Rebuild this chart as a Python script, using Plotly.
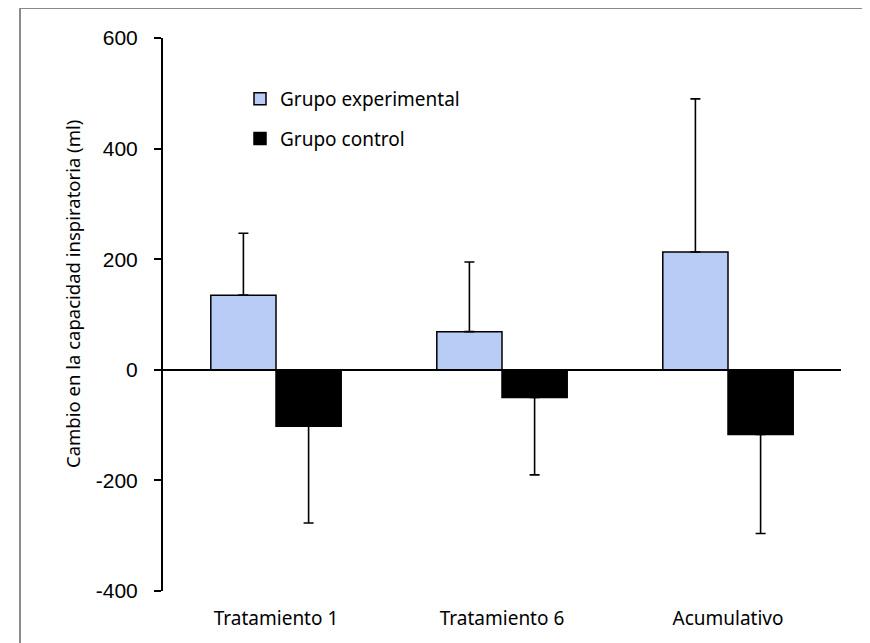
import plotly.graph_objects as go

# Datos
categorias = ["Tratamiento 1", "Tratamiento 6", "Acumulativo"]
experimental = [135, 69, 213]
experimental_err = [112, 126, 277]
control = [-102, -50, -117]
control_err = [175, 140, 179]
y_ticks = [-400, -200, 0, 200, 400, 600]
y_ticktext = ["-400", "-200", "0", "200", "400", "600"]

# La página tiene un margen de 8 px: el gráfico empieza en (8, 8)
OFF = 8
W, H = 870 - OFF, 643 - OFF
M_L, M_R, M_T, M_B = 163 - OFF, 29, 38 - OFF, 52
PW = W - M_L - M_R
PH = H - M_T - M_B


def px_x(x):
    # x en píxeles de la ventana -> coordenada "paper"
    return (x - OFF - M_L) / PW


def px_y(y):
    return (H - M_B - (y - OFF)) / PH


fig = go.Figure()

fig.add_trace(go.Bar(
    x=categorias,
    y=experimental,
    name="Grupo experimental",
    legendgroup="exp",
    marker=dict(color="#B9CCF6", line=dict(color="black", width=1.5)),
    error_y=dict(type="data", symmetric=False, array=experimental_err,
                 arrayminus=[0] * len(experimental_err),
                 color="black", thickness=1.6, width=5),
))
fig.add_trace(go.Bar(
    x=categorias,
    y=control,
    name="Grupo control",
    legendgroup="ctl",
    marker=dict(color="black", line=dict(color="black", width=1.5)),
    error_y=dict(type="data", symmetric=False, array=[0] * len(control_err),
                 arrayminus=control_err,
                 color="black", thickness=1.6, width=5),
))

# ── Marco gris (arriba e izquierda) ──
borde = dict(type="line", xref="paper", yref="paper",
             line=dict(color="#8a8a8a", width=2), layer="above")
fig.add_shape(**borde, x0=px_x(20), x1=px_x(875), y0=px_y(8), y1=px_y(8))
fig.add_shape(**borde, x0=px_x(20), x1=px_x(20), y0=px_y(8), y1=px_y(650))

# ── Título del eje Y ──
fig.add_annotation(
    text="Cambio en la capacidad inspiratoria (ml)",
    xref="paper", yref="paper", x=px_x(72), y=px_y(294),
    xanchor="center", yanchor="middle",
    textangle=-90, showarrow=False,
    font=dict(family="Noto Sans", size=18.5, color="black"),
)

fig.update_layout(
    width=W,
    height=H,
    margin=dict(l=M_L, r=M_R, t=M_T, b=M_B, autoexpand=False),
    paper_bgcolor="white",
    plot_bgcolor="white",
    barmode="group",
    bargap=0.423,
    bargroupgap=0,
    showlegend=True,
    legend=dict(
        x=px_x(240), y=px_y(80), xanchor="left", yanchor="top",
        font=dict(family="Noto Sans", size=19, color="black"),
        bgcolor="rgba(0,0,0,0)",
        traceorder="grouped",
        tracegroupgap=12,
    ),
    xaxis=dict(
        range=[-0.5, 2.5],
        showline=False,
        showgrid=False,
        zeroline=False,
        ticks="",
        ticklabelstandoff=14,
        tickfont=dict(family="Noto Sans", size=19, color="black"),
    ),
    yaxis=dict(
        range=[-400, 600],
        tickvals=y_ticks,
        ticktext=y_ticktext,
        showgrid=False,
        zeroline=True,
        zerolinecolor="black",
        zerolinewidth=1.6,
        showline=True,
        linecolor="black",
        linewidth=2,
        ticks="outside",
        ticklen=7,
        tickwidth=2,
        tickcolor="black",
        ticklabelstandoff=12,
        tickfont=dict(family="Liberation Sans", size=21, color="black"),
    ),
)

fig.write_html("out.html")
